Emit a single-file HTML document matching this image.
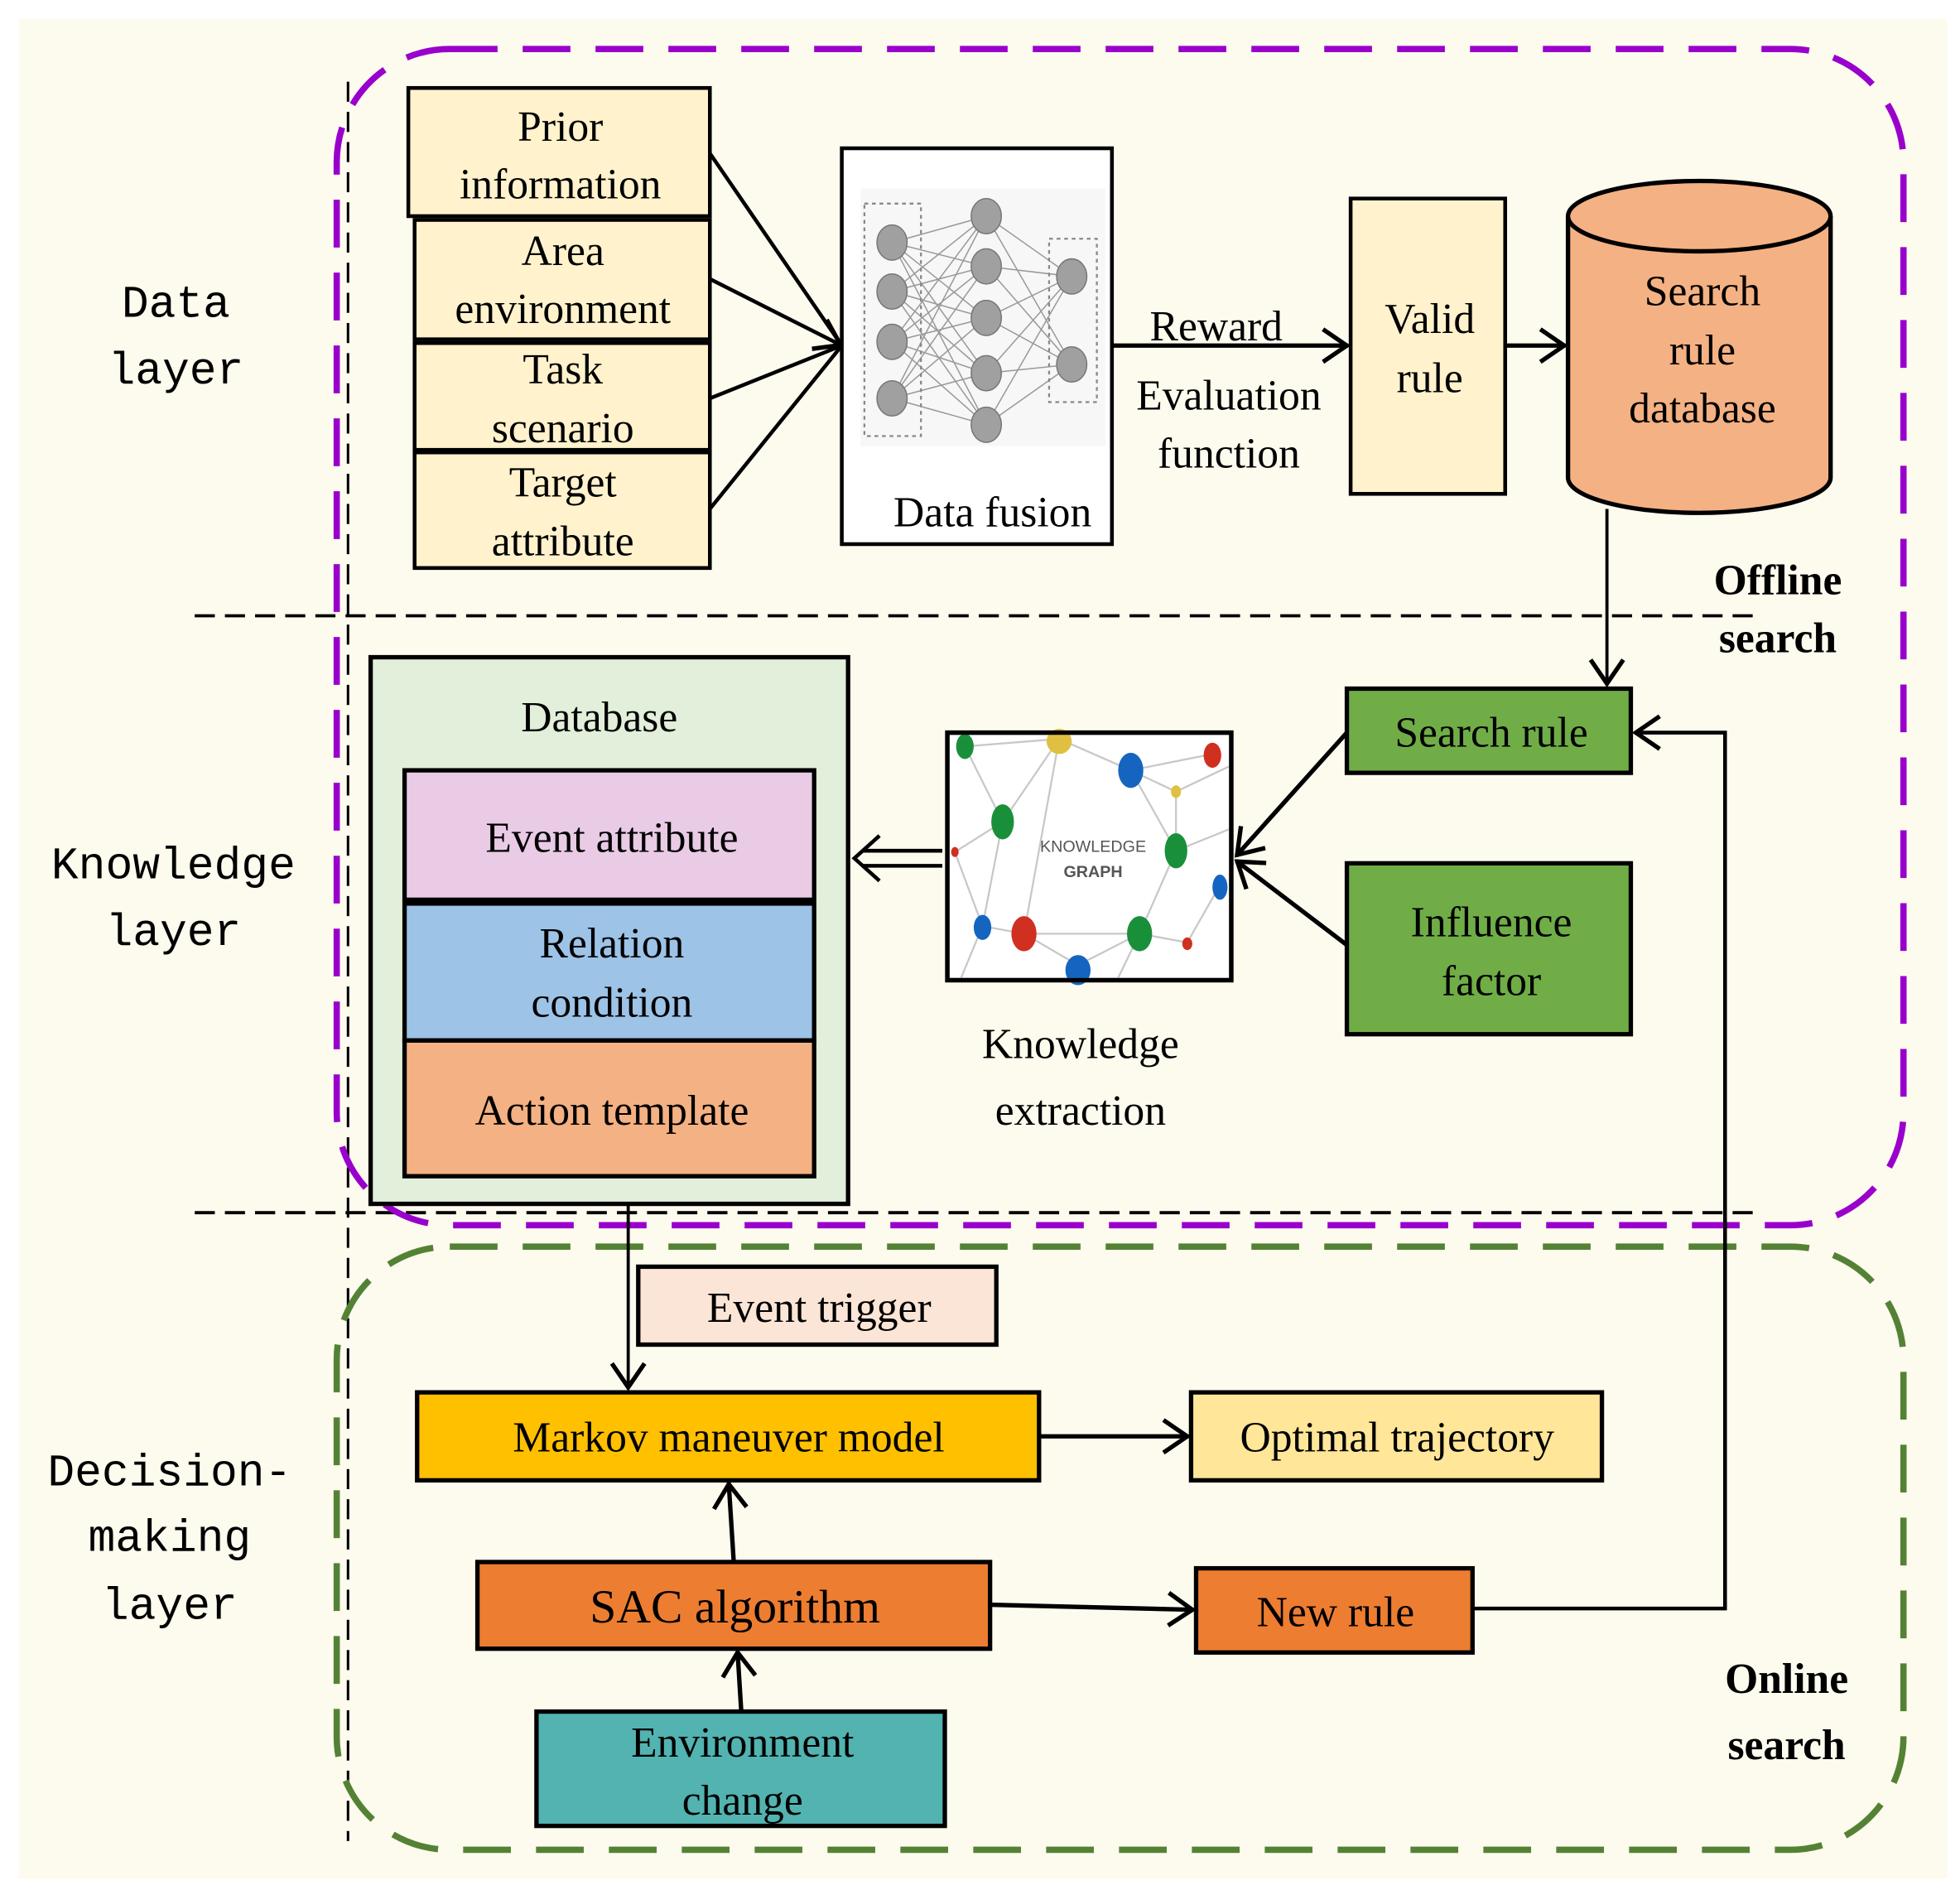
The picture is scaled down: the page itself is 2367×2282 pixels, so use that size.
<!DOCTYPE html>
<html><head><meta charset="utf-8"><style>
html,body{margin:0;padding:0;background:#fff;}
svg{display:block;}
text{font-family:"Liberation Serif",serif;font-size:34px;fill:#000;}
.m{font-family:"Liberation Mono",monospace;font-size:36px;}
.b{font-weight:bold;}
</style></head><body>
<svg width="2367" height="2282" viewBox="0 0 1560 1504" preserveAspectRatio="none" xmlns="http://www.w3.org/2000/svg">
<defs>
<marker id="a" markerWidth="14" markerHeight="14" refX="12" refY="7" orient="auto" markerUnits="userSpaceOnUse" viewBox="0 0 14 14">
<polyline points="1,0 12,7 1,14" fill="none" stroke="#000" stroke-width="3"/>
</marker>
<marker id="a2" markerWidth="24" markerHeight="30" refX="22" refY="15" orient="auto" markerUnits="userSpaceOnUse" viewBox="0 0 24 30">
<polyline points="2,2 21,15 2,28" fill="none" stroke="#000" stroke-width="3.5"/>
</marker>
</defs>
<rect x="0" y="0" width="1560" height="1504" fill="#fff"/>
<rect x="15" y="15" width="1535" height="1480" fill="#fdfaee"/>

<line x1="277" y1="65" x2="277" y2="1465" stroke="#000" stroke-width="2" stroke-dasharray="16,8"/>
<line x1="155" y1="490" x2="1400" y2="490" stroke="#000" stroke-width="2.5" stroke-dasharray="16,8"/>
<line x1="155" y1="965" x2="1400" y2="965" stroke="#000" stroke-width="2.5" stroke-dasharray="16,8"/>

<rect x="268" y="39" width="1247" height="936" rx="90" fill="none" stroke="#9900cc" stroke-width="5" stroke-dasharray="38,20"/>
<rect x="268" y="992" width="1247" height="480" rx="90" fill="none" stroke="#548235" stroke-width="5" stroke-dasharray="38,20"/>

<text class="m" x="140" y="252" text-anchor="middle">Data</text>
<text class="m" x="140" y="305" text-anchor="middle">layer</text>
<text class="m" x="138" y="699" text-anchor="middle">Knowledge</text>
<text class="m" x="138" y="752" text-anchor="middle">layer</text>
<text class="m" x="135" y="1182" text-anchor="middle">Decision-</text>
<text class="m" x="135" y="1234" text-anchor="middle">making</text>
<text class="m" x="135" y="1288" text-anchor="middle">layer</text>

<g stroke="#000" stroke-width="3">
<rect x="325" y="70" width="240" height="102" fill="#fff2cc"/>
<rect x="330" y="175" width="235" height="95" fill="#fff2cc"/>
<rect x="330" y="273" width="235" height="85" fill="#fff2cc"/>
<rect x="330" y="360" width="235" height="92" fill="#fff2cc"/>
</g>
<text x="446" y="112" text-anchor="middle">Prior</text>
<text x="446" y="158" text-anchor="middle">information</text>
<text x="448" y="211" text-anchor="middle">Area</text>
<text x="448" y="257" text-anchor="middle">environment</text>
<text x="448" y="305" text-anchor="middle">Task</text>
<text x="448" y="352" text-anchor="middle">scenario</text>
<text x="448" y="395" text-anchor="middle">Target</text>
<text x="448" y="442" text-anchor="middle">attribute</text>

<g stroke="#000" stroke-width="3" fill="none">
<line x1="565" y1="122" x2="670" y2="275"/>
<line x1="565" y1="222" x2="670" y2="275" marker-end="url(#a2)"/>
<line x1="565" y1="317" x2="670" y2="275"/>
<line x1="565" y1="405" x2="670" y2="275"/>
</g>

<rect x="670" y="118" width="215" height="315" fill="#fff" stroke="#000" stroke-width="3"/>
<rect x="685" y="150" width="195" height="205" fill="#f7f7f7"/>
<g stroke="#999" stroke-width="1" fill="none">
<path d="M710,193L785,172M710,193L785,212M710,193L785,253M710,193L785,297M710,193L785,338M710,232L785,172M710,232L785,212M710,232L785,253M710,232L785,297M710,232L785,338M710,272L785,172M710,272L785,212M710,272L785,253M710,272L785,297M710,272L785,338M710,317L785,172M710,317L785,212M710,317L785,253M710,317L785,297M710,317L785,338M785,172L853,220M785,212L853,220M785,253L853,220M785,297L853,220M785,338L853,220M785,172L853,290M785,212L853,290M785,253L853,290M785,297L853,290M785,338L853,290"/>
</g>
<rect x="688" y="162" width="45" height="185" fill="none" stroke="#888" stroke-width="1.5" stroke-dasharray="3,3"/>
<rect x="835" y="190" width="38" height="130" fill="none" stroke="#888" stroke-width="1.5" stroke-dasharray="3,3"/>
<g fill="#a0a0a0" stroke="#777" stroke-width="1">
<ellipse cx="710" cy="193" rx="12" ry="14"/><ellipse cx="710" cy="232" rx="12" ry="14"/><ellipse cx="710" cy="272" rx="12" ry="14"/><ellipse cx="710" cy="317" rx="12" ry="14"/>
<ellipse cx="785" cy="172" rx="12" ry="14"/><ellipse cx="785" cy="212" rx="12" ry="14"/><ellipse cx="785" cy="253" rx="12" ry="14"/><ellipse cx="785" cy="297" rx="12" ry="14"/><ellipse cx="785" cy="338" rx="12" ry="14"/>
<ellipse cx="853" cy="220" rx="12" ry="14"/><ellipse cx="853" cy="290" rx="12" ry="14"/>
</g>
<text x="790" y="419" text-anchor="middle">Data fusion</text>

<line x1="885" y1="275" x2="1073" y2="275" stroke="#000" stroke-width="3.5" marker-end="url(#a2)"/>
<text x="968" y="271" text-anchor="middle">Reward</text>
<text x="978" y="326" text-anchor="middle">Evaluation</text>
<text x="978" y="372" text-anchor="middle">function</text>

<rect x="1075" y="158" width="123" height="235" fill="#fff2cc" stroke="#000" stroke-width="3"/>
<text x="1138" y="265" text-anchor="middle">Valid</text>
<text x="1138" y="312" text-anchor="middle">rule</text>
<line x1="1198" y1="275" x2="1246" y2="275" stroke="#000" stroke-width="3.5" marker-end="url(#a2)"/>

<path d="M1248,172 L1248,380 A104,28 0 0 0 1457,380 L1457,172" fill="#f4b183" stroke="#000" stroke-width="3.5"/>
<ellipse cx="1352.5" cy="172" rx="104.5" ry="28" fill="#f4b183" stroke="#000" stroke-width="3.5"/>
<text x="1355" y="243" text-anchor="middle">Search</text>
<text x="1355" y="290" text-anchor="middle">rule</text>
<text x="1355" y="336" text-anchor="middle">database</text>

<line x1="1279" y1="405" x2="1279" y2="545" stroke="#000" stroke-width="2.5" marker-end="url(#a2)"/>
<text class="b" x="1415" y="473" text-anchor="middle">Offline</text>
<text class="b" x="1415" y="519" text-anchor="middle">search</text>

<rect x="295" y="523" width="380" height="435" fill="#e2efda" stroke="#000" stroke-width="3.5"/>
<text x="477" y="582" text-anchor="middle">Database</text>
<rect x="322" y="613" width="326" height="103" fill="#e9cbe6" stroke="#000" stroke-width="3.5"/>
<rect x="322" y="719" width="326" height="109" fill="#9dc3e6" stroke="#000" stroke-width="3.5"/>
<rect x="322" y="828" width="326" height="108" fill="#f4b183" stroke="#000" stroke-width="3.5"/>
<text x="487" y="678" text-anchor="middle">Event attribute</text>
<text x="487" y="762" text-anchor="middle">Relation</text>
<text x="487" y="809" text-anchor="middle">condition</text>
<text x="487" y="895" text-anchor="middle">Action template</text>

<rect x="754" y="583" width="226" height="197" fill="#fff" stroke="#000" stroke-width="3.5"/>
<g stroke="#c8c8c8" stroke-width="1.5" fill="none">
<path d="M768,594L843,588L900,613L965,600M768,594L798,654L843,588M798,654L760,678M798,654L782,737L815,743L907,743L936,677L900,613M815,743L843,588M815,743L858,768L907,743L945,750L970,706M936,677L936,630L978,610M936,677L978,660M900,613L936,630M782,737L760,678M782,737L765,778M907,743L890,778"/>
</g>
<g>
<ellipse cx="768" cy="594" rx="7" ry="10" fill="#1a8f3a"/>
<ellipse cx="843" cy="590" rx="10" ry="10" fill="#e0c040"/>
<ellipse cx="900" cy="613" rx="10" ry="14" fill="#1565c0"/>
<ellipse cx="965" cy="601" rx="7" ry="10" fill="#d03020"/>
<ellipse cx="936" cy="630" rx="4" ry="5" fill="#e0c040"/>
<ellipse cx="798" cy="654" rx="9" ry="14" fill="#1a8f3a"/>
<ellipse cx="760" cy="678" rx="3" ry="4" fill="#d03020"/>
<ellipse cx="936" cy="677" rx="9" ry="14" fill="#1a8f3a"/>
<ellipse cx="971" cy="706" rx="6" ry="10" fill="#1565c0"/>
<ellipse cx="782" cy="738" rx="7" ry="10" fill="#1565c0"/>
<ellipse cx="815" cy="743" rx="10" ry="14" fill="#d03020"/>
<ellipse cx="907" cy="743" rx="10" ry="14" fill="#1a8f3a"/>
<ellipse cx="945" cy="751" rx="4" ry="5" fill="#d03020"/>
<ellipse cx="858" cy="772" rx="10" ry="12" fill="#1565c0"/>
</g>
<rect x="754" y="583" width="226" height="197" fill="none" stroke="#000" stroke-width="3.5"/>
<text x="870" y="678" text-anchor="middle" style="font-family:'Liberation Sans',sans-serif;font-size:13px;fill:#555">KNOWLEDGE</text>
<text x="870" y="698" text-anchor="middle" style="font-family:'Liberation Sans',sans-serif;font-size:13px;font-weight:bold;fill:#555">GRAPH</text>

<g stroke="#000" stroke-width="3" fill="none">
<line x1="750" y1="677" x2="686" y2="677"/>
<line x1="750" y1="689" x2="686" y2="689"/>
<polyline points="700,665 680,683 700,701"/>
</g>

<text x="860" y="842" text-anchor="middle">Knowledge</text>
<text x="860" y="895" text-anchor="middle">extraction</text>

<rect x="1072" y="548" width="226" height="67" fill="#70ad47" stroke="#000" stroke-width="3.5"/>
<text x="1187" y="594" text-anchor="middle">Search rule</text>
<rect x="1072" y="687" width="226" height="136" fill="#70ad47" stroke="#000" stroke-width="3.5"/>
<text x="1187" y="745" text-anchor="middle">Influence</text>
<text x="1187" y="792" text-anchor="middle">factor</text>

<g stroke="#000" stroke-width="3.5" fill="none">
<line x1="1072" y1="583" x2="984" y2="681" marker-end="url(#a2)"/>
<line x1="1072" y1="752" x2="984" y2="685" marker-end="url(#a2)"/>
<polyline points="1172,1280 1373,1280 1373,583 1301,583" stroke-width="3" marker-end="url(#a2)"/>
<line x1="500" y1="958" x2="500" y2="1105" stroke-width="2.5" marker-end="url(#a2)"/>
<line x1="827" y1="1143" x2="946" y2="1143" marker-end="url(#a2)"/>
<line x1="584" y1="1243" x2="580" y2="1180" marker-end="url(#a2)"/>
<line x1="788" y1="1277" x2="950" y2="1281" marker-end="url(#a2)"/>
<line x1="590" y1="1362" x2="587" y2="1314" marker-end="url(#a2)"/>
</g>

<rect x="508" y="1008" width="285" height="62" fill="#fbe5d6" stroke="#000" stroke-width="3.5"/>
<text x="652" y="1052" text-anchor="middle">Event trigger</text>
<rect x="332" y="1108" width="495" height="70" fill="#ffc000" stroke="#000" stroke-width="3.5"/>
<text x="580" y="1155" text-anchor="middle">Markov maneuver model</text>
<rect x="948" y="1108" width="327" height="70" fill="#ffe699" stroke="#000" stroke-width="3.5"/>
<text x="1112" y="1155" text-anchor="middle">Optimal trajectory</text>
<rect x="380" y="1243" width="408" height="69" fill="#ed7d31" stroke="#000" stroke-width="3.5"/>
<text x="585" y="1291" text-anchor="middle" style="font-size:38px">SAC algorithm</text>
<rect x="952" y="1248" width="220" height="67" fill="#ed7d31" stroke="#000" stroke-width="3.5"/>
<text x="1063" y="1294" text-anchor="middle">New rule</text>
<rect x="427" y="1362" width="325" height="91" fill="#52b3b1" stroke="#000" stroke-width="3.5"/>
<text x="591" y="1398" text-anchor="middle">Environment</text>
<text x="591" y="1444" text-anchor="middle">change</text>

<text class="b" x="1422" y="1347" text-anchor="middle">Online</text>
<text class="b" x="1422" y="1400" text-anchor="middle">search</text>
</svg>
</body></html>
